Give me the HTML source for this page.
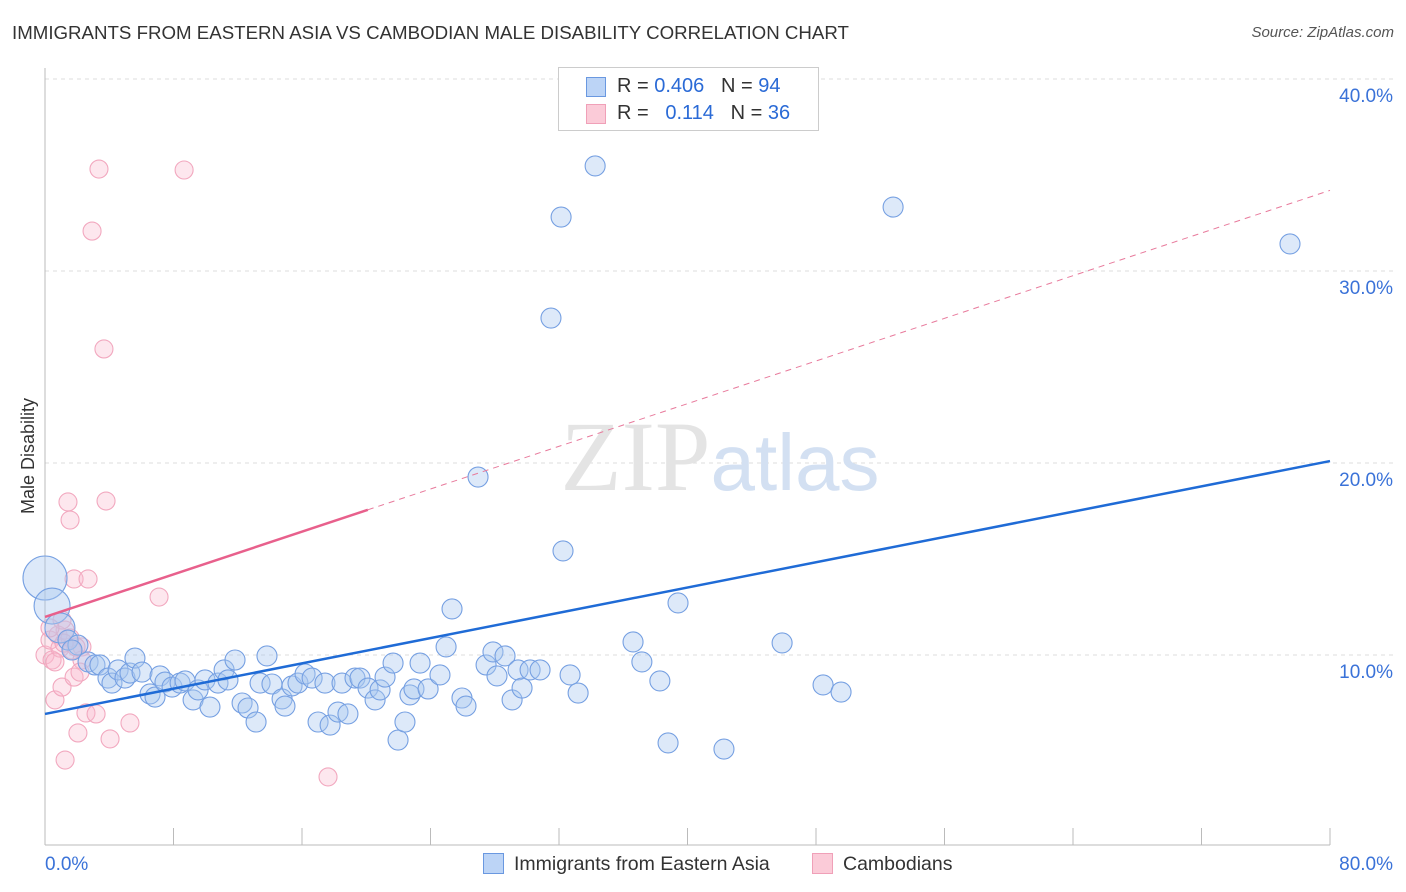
<!DOCTYPE html>
<html><head><meta charset="utf-8"><style>
body{margin:0;background:#fff;font-family:"Liberation Sans",sans-serif;}
#wrap{position:relative;width:1406px;height:892px;overflow:hidden;}
.t{position:absolute;white-space:nowrap;}
</style></head><body>
<div id="wrap">
<div class="t" style="left:12px;top:22px;font-size:18.7px;color:#333;">IMMIGRANTS FROM EASTERN ASIA VS CAMBODIAN MALE DISABILITY CORRELATION CHART</div>
<div class="t" style="right:12px;top:24px;font-size:15px;color:#555;font-style:italic;">Source: ZipAtlas.com</div>
<svg id="svg" width="1406" height="892" style="position:absolute;left:0;top:0"></svg>
</div>
<script>
const xTicks=[0,8,16,24,32,40,48,56,64,72,80];
const yTicks=[10,20,30,40];
const blueX=[0,0.44,0.93,1.43,2.05,1.68,2.68,3.11,3.42,3.92,4.17,4.55,4.98,5.29,5.60,6.04,6.54,6.85,7.16,7.47,7.91,8.41,8.72,9.22,9.53,9.96,10.27,10.77,11.15,11.39,11.83,12.27,12.64,13.14,13.39,13.82,14.13,14.76,14.94,15.38,15.75,16.19,16.63,17.00,17.43,17.75,18.24,18.49,18.86,19.30,19.61,20.11,20.55,20.86,21.17,21.67,21.98,22.41,22.72,22.97,23.35,23.85,24.59,24.97,25.34,25.96,26.21,26.96,27.46,27.89,28.14,28.64,29.08,29.45,29.70,30.20,30.82,31.50,32.13,32.25,32.69,33.19,34.25,36.61,37.16,38.28,38.79,39.41,42.27,45.89,48.44,49.56,52.80,77.51];
const blueY=[14.01,12.55,11.41,10.78,10.52,10.26,9.64,9.48,9.48,8.80,8.54,9.22,8.80,9.06,9.84,9.11,7.97,7.81,8.91,8.59,8.33,8.54,8.65,7.66,8.18,8.70,7.29,8.54,9.22,8.70,9.74,7.50,7.24,6.51,8.54,9.95,8.49,7.71,7.34,8.39,8.54,9.01,8.80,6.51,8.54,6.35,7.03,8.54,6.93,8.80,8.80,8.28,7.66,8.18,8.85,9.58,5.57,6.51,7.92,8.23,9.58,8.23,8.96,10.42,12.40,7.76,7.34,19.27,9.48,10.16,8.91,9.95,7.66,9.22,8.28,9.22,9.22,27.55,32.81,15.42,8.96,8.02,35.47,10.68,9.64,8.65,5.42,12.71,5.10,10.63,8.44,8.07,33.33,31.41];
const blueSize=[22,18,15];
const pinkX=[0,0.31,0.44,0.62,0.81,0.93,1.06,1.25,1.25,1.43,1.56,1.68,1.81,1.81,2.05,2.30,2.30,2.68,2.55,2.93,3.18,3.36,3.67,3.80,4.05,5.29,7.10,8.66,17.62,2.18,0.62,1.06,0.31,1.56,1.93,1.18];
const pinkY=[10.0,10.78,9.74,7.66,11.04,10.36,8.33,4.53,11.30,17.97,17.03,10.26,13.96,8.85,5.94,10.42,9.74,13.96,6.98,32.08,6.93,35.31,25.94,18.02,5.63,6.46,13.02,35.26,3.65,9.11,9.64,11.82,11.41,10.89,10.42,10.62];
const blueTrend=[6.93,20.1];
const pinkTrend=[11.98,34.2];
const pinkSolidEnd=20.1;
const L=45,R=1330;
const sx=v=>L+v/80*(R-L);
const sy=v=>655-(v-10)*19.2;
const svg=document.getElementById('svg');
const NS='http://www.w3.org/2000/svg';
function mk(tag,a){const e=document.createElementNS(NS,tag);for(const k in a)e.setAttribute(k,a[k]);svg.appendChild(e);return e;}
yTicks.forEach(v=>{const g=mk('line',{x1:L,x2:1395,y1:sy(v),y2:sy(v),stroke:'#ddd','stroke-dasharray':'4,4'});


const t=mk('text',{x:1393,y:sy(v)+23,'text-anchor':'end','font-size':19,fill:'#3a72d8','font-family':'Liberation Sans'});t.textContent=v.toFixed(1)+'%';

});
mk('line',{x1:L,x2:L,y1:68,y2:845,stroke:'#bbb'});
mk('line',{x1:L,x2:R,y1:845,y2:845,stroke:'#bbb'});
xTicks.forEach(v=>{const tk=mk('line',{x1:sx(v),x2:sx(v),y1:828,y2:845,stroke:'#bbb'});

});
[[0,45,'start'],[80,1393,'end']].forEach(([v,x,a])=>{const t=mk('text',{x:x,y:870,'text-anchor':a,'font-size':19,fill:'#3a72d8','font-family':'Liberation Sans'});t.textContent=v.toFixed(1)+'%';

});
const yt=mk('text',{x:34,y:456,'text-anchor':'middle','font-size':18,fill:'#333',transform:'rotate(-90 34 456)','font-family':'Liberation Sans'});yt.textContent='Male Disability';


const wm=mk('text',{x:720,y:490,'text-anchor':'middle','font-size':100,fill:'#e4e4e4','font-family':'Liberation Serif'});
wm.innerHTML='<tspan>ZIP</tspan><tspan font-family="Liberation Sans" fill="#d3e0f2" font-size="80">atlas</tspan>';


pinkX.forEach((x,i)=>{const c=mk('circle',{cx:sx(x),cy:sy(pinkY[i]),r:9,fill:'rgba(250,185,205,0.35)',stroke:'#f2a8bf','stroke-width':1.1});

});
blueX.forEach((x,i)=>{const c=mk('circle',{cx:sx(x),cy:sy(blueY[i]),r:blueSize[i]||10,fill:'rgba(170,200,240,0.4)',stroke:'#76a0e2','stroke-width':1.1});

});
const pv=x=>pinkTrend[0]+(pinkTrend[1]-pinkTrend[0])*x/80;
const pd=mk('line',{x1:sx(pinkSolidEnd),y1:sy(pv(pinkSolidEnd)),x2:sx(80),y2:sy(pv(80)),stroke:'#e87a9c','stroke-width':1,'stroke-dasharray':'6,5'});


const ps=mk('line',{x1:sx(0),y1:sy(pv(0)),x2:sx(pinkSolidEnd),y2:sy(pv(pinkSolidEnd)),stroke:'#e8608c','stroke-width':2.5});


const bl=mk('line',{x1:sx(0),y1:sy(blueTrend[0]),x2:sx(80),y2:sy(blueTrend[1]),stroke:'#1f6bd6','stroke-width':2.5});


</script>
<div class="t" style="left:558px;top:67px;width:259px;height:62px;border:1px solid #ccc;background:#fff;font-size:20px;">
<div style="position:absolute;left:27px;top:9px;width:18px;height:18px;background:#bcd4f6;border:1px solid #6a98e0"></div>
<div class="t" style="left:58px;top:7px;color:#333">R = <span style="color:#2a6ad6">0.406</span>&nbsp;&nbsp;&nbsp;N = <span style="color:#2a6ad6">94</span></div>
<div style="position:absolute;left:27px;top:36px;width:18px;height:18px;background:#fbcbd8;border:1px solid #f0a0b8"></div>
<div class="t" style="left:58px;top:34px;color:#333">R = &nbsp;&nbsp;<span style="color:#2a6ad6">0.114</span>&nbsp;&nbsp;&nbsp;N = <span style="color:#2a6ad6">36</span></div>
</div>
<div class="t" style="left:483px;top:853px;font-size:19.5px;color:#333"><span style="display:inline-block;width:19px;height:19px;background:#bcd4f6;border:1px solid #6a98e0;vertical-align:-4px;margin-right:10px"></span>Immigrants from Eastern Asia</div>
<div class="t" style="left:812px;top:853px;font-size:19.5px;color:#333"><span style="display:inline-block;width:19px;height:19px;background:#fbcbd8;border:1px solid #f0a0b8;vertical-align:-4px;margin-right:10px"></span>Cambodians</div>
</body></html>
